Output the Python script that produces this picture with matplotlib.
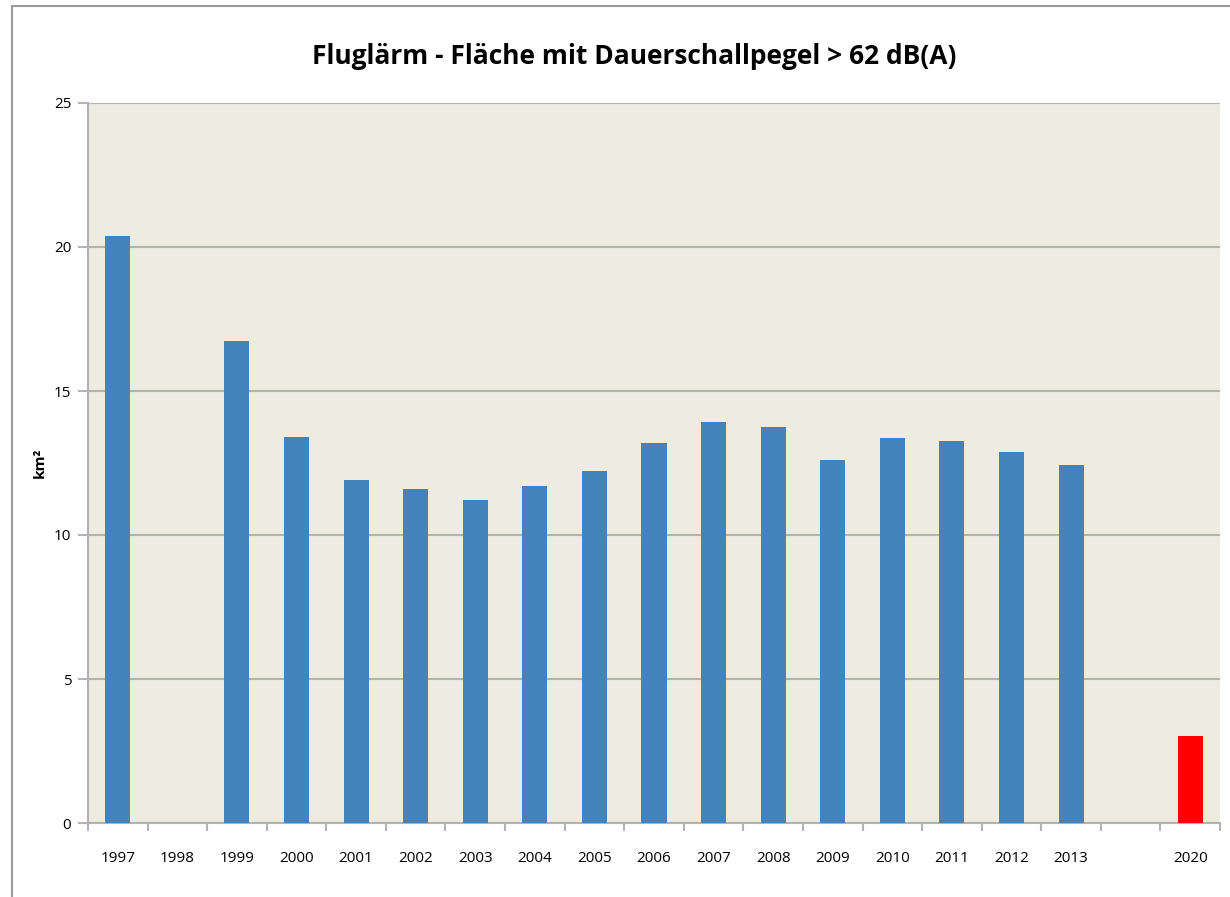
import numpy as np
import matplotlib
matplotlib.use("Agg")
import matplotlib.pyplot as plt
from matplotlib.patches import Rectangle

# Noise area per year (km²); None = no value for that slot
years = ["1997", "1998", "1999", "2000", "2001", "2002", "2003", "2004", "2005",
         "2006", "2007", "2008", "2009", "2010", "2011", "2012", "2013", "", "2020"]
area_km2 = [20.38, None, 16.74, 13.40, 11.91, 11.60, 11.22, 11.70, 12.22,
            13.19, 13.92, 13.75, 12.60, 13.37, 13.26, 12.88, 12.43, None, 3.02]
target_year = "2020"

blue = "#4584BB"
red = "#FF0000"
grid_gray = "#B3B3B3"

plt.rcParams["font.family"] = ["Open Sans", "DejaVu Sans"]

fig = plt.figure(figsize=(12.30, 8.97), dpi=100)
W, H = 1230, 897
ax = fig.add_axes([88 / W, 1 - 823 / H, (1220 - 88) / W, (823 - 103) / H])

x = np.arange(len(years))
vals = np.array([np.nan if v is None else v for v in area_km2], dtype=float)
colors = [red if y == target_year else blue for y in years]
ax.bar(x, np.nan_to_num(vals), width=0.42, color=colors, zorder=3)

ax.set_facecolor("#EEEBE0")
ax.set_xlim(-0.5, len(years) - 0.5)
ax.set_ylim(0, 25)
ax.set_yticks(np.arange(0, 26, 5))
ax.yaxis.grid(True, color=grid_gray, linewidth=1.5, zorder=1)

# category boundaries as major ticks, labels centred on the bars
ax.set_xticks(np.arange(-0.5, len(years), 1.0))
ax.set_xticklabels([])
ax.set_xticks(x, minor=True)
ax.set_xticklabels(years, minor=True, fontsize=11)
ax.tick_params(axis="x", which="minor", length=0, pad=20)
ax.tick_params(axis="x", which="major", length=6, color=grid_gray, width=1.5)
ax.tick_params(axis="y", length=7, color=grid_gray, width=1.5, labelsize=11, pad=5)

for side in ("top", "right"):
    ax.spines[side].set_visible(False)
for side in ("left", "bottom"):
    ax.spines[side].set_color(grid_gray)
    ax.spines[side].set_linewidth(1.5)

ax.set_ylabel("km²", fontsize=11, fontweight="bold", labelpad=5)

fig.text(0.516, 1 - 57 / H, "Fluglärm - Fläche mit Dauerschallpegel > 62 dB(A)",
         ha="center", va="center", fontsize=19, fontweight="bold")

# chart frame
fig.patches.append(Rectangle((12 / W, -0.05), 1.2, 1 - 6 / H + 0.05,
                             transform=fig.transFigure, fill=False,
                             edgecolor="#9A9A9A", linewidth=1.5))

fig.savefig("out.png", dpi=100, facecolor="white")
